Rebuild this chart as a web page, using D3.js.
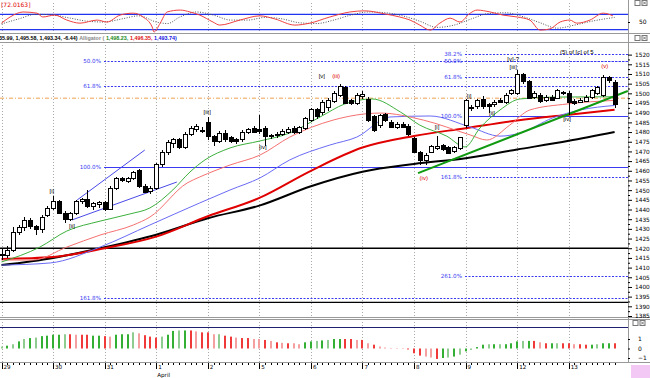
<!DOCTYPE html>
<html><head><meta charset="utf-8">
<script src="https://cdn.jsdelivr.net/npm/d3@7"></script>
<style>body{margin:0;background:#fff}svg{display:block;font-family:"DejaVu Sans",sans-serif}</style>
</head><body><svg id="c" width="650" height="378"></svg>
<script>
// ---------- DATA ----------
const dayLabels = ["29","30","31","1","2","5","6","7","8","9","12","13"];
const barsPerDay = 9;
const open  = [1417,1416,1419,1428,1430.5,1434.5,1431,1429.5,1437, 1440.5,1444,1438,1435,1438,1444,1445,1441.5,1442.5, 1443.5,1440,1451,1456,1454.5,1456,1460,1452,1449.5, 1451,1463,1469.5,1474,1476,1472,1479,1481.5,1481, 1485,1477.5,1475,1479.5,1477,1476,1476,1480,1482, 1481.5,1482,1478,1478,1479,1480,1482,1480,1482, 1486,1491.5,1490,1492.5,1496,1499,1503,1496.5,1495, 1498.5,1497,1488,1483.5,1489,1485,1482.5,1484,1483, 1476.5,1469.5,1465.5,1469.5,1471.5,1473,1472,1470,1471.5, 1483.5,1492,1493,1497,1494,1494,1496.5,1495.5,1500, 1500,1509.5,1506,1498,1499,1496.5,1498,1497.5,1500, 1500,1496,1495.5,1496,1498,1500,1499,1508,1505.5];
const high  = [1420,1421,1431,1432,1436,1435.5,1432,1437,1442, 1447,1445,1439,1438.5,1445,1446,1450,1444,1444.5, 1444.5,1452,1457,1457,1457,1460,1461,1453,1452, 1464,1470.5,1476,1477,1477,1480,1483,1484,1482.5, 1488,1478.5,1480.5,1481,1478,1477,1481,1482,1483, 1489,1483,1479,1480,1481.5,1482.5,1483,1483,1488, 1492.5,1492.5,1496.5,1497.5,1501,1505,1504,1497,1500, 1501,1498,1489,1489.5,1490,1486,1485,1485,1484, 1477.5,1470,1469,1473.5,1478,1474,1473,1473,1477.5, 1497,1494,1497,1498.5,1495,1496.5,1497.5,1500,1502.5, 1512,1510.5,1507,1501,1500,1499,1499,1502.5,1501, 1501,1497,1497.5,1499,1502,1504,1509.5,1509,1507];
const low   = [1414,1415,1418,1427,1429,1430,1427,1428,1436, 1440,1437.5,1433,1434,1437,1443,1441,1440,1441, 1439,1439.5,1450,1454,1453.5,1455,1451,1448.5,1448, 1450,1462,1468,1472,1471,1471,1478,1480,1479.5, 1476,1473,1474.5,1475,1474.5,1474,1475,1479,1479.5, 1479,1473,1476.5,1477,1478,1479,1479,1479,1481, 1485,1487,1489,1491,1495,1498,1494.5,1494,1494, 1497,1485,1480,1482,1485,1482,1481.5,1482,1478, 1469,1463,1463,1469,1470.5,1470,1468.5,1469,1470.5, 1482,1491,1492,1492,1490,1493,1495,1494.5,1499, 1499,1505,1497,1497,1495,1495.5,1496,1497,1499, 1489,1494,1495,1495.5,1497,1499,1498,1505.5,1492.5];
const close = [1416,1419,1428,1430.5,1434.5,1431,1429.5,1436,1440.5, 1444,1438,1435,1438,1444,1445,1441.5,1443,1443.5, 1440,1451,1456,1455,1456,1459,1452,1449,1451, 1463,1469.5,1474.5,1476,1472,1479,1482,1483,1480.5, 1477.5,1475,1479.5,1476,1475,1475,1480,1481.5,1480, 1480.5,1477.5,1477.5,1479,1480.5,1481.5,1480,1482.5,1487, 1491.5,1488,1495.5,1496.5,1500,1503.5,1495,1495,1499, 1499.5,1486,1481,1488.5,1486,1482.5,1484,1482.5,1478.5, 1469.5,1465.5,1468,1472.5,1472.5,1471,1469,1472,1477, 1496.5,1492.5,1496.5,1493,1493,1495.5,1495.5,1499,1501.7, 1509.5,1506,1497.5,1500,1496,1498,1496.5,1501.5,1500.5, 1495.5,1495,1496.5,1498,1501.5,1503,1508,1506.5,1494];

// long moving averages (bar index, value)
const maIdx      = [0,9,18,27,36,45,54,63,72,81,90,99,107];
const maBlack    = [1411.3,1415,1420.5,1427,1435.5,1442,1452,1459.5,1463.5,1466.5,1471,1475.5,1480];
const maRed      = [1414.5,1415.5,1420,1426,1436.5,1446,1460,1472,1478,1482,1486,1489,1491.5];
// Alligator lines
const lipsIdx  = [0,6.7,11.4,17.2,22.4,25.9,29.9,32.9,35.5,39.9,45.1,50.3,55.6,59.9,64.7,69.6,73,77.7,80.9,83.5,87,90.5,97.5,107];
const lipsVal  = [1412.9,1420.6,1428.9,1434,1437.7,1440.8,1450.1,1459.4,1465.6,1471.8,1475.4,1479.5,1487.8,1494.5,1497.1,1490.4,1483.6,1477.9,1472.3,1482.1,1491.4,1497.1,1498.1,1498.23];
const teethIdx = [0,5.5,11.4,17.2,23,25.9,32.4,34.6,39.9,45.1,50.3,57.9,66.1,73.6,81.8,84.7,88.7,92.2,98.7,107];
const teethVal = [1413.9,1413.9,1420.6,1426.8,1432,1436.1,1453.7,1456.8,1463,1468.1,1477.4,1486.2,1489.8,1486.2,1478.5,1475.9,1483.6,1491.4,1494.5,1496.35];
const jawIdx   = [0,8.5,17.2,25.9,34.6,39.9,45.1,50.3,57.3,62,67.8,74.8,81.8,87,90.5,96.2,101,107];
const jawVal   = [1411.3,1412.4,1420.6,1432,1443.4,1450.1,1456.3,1465.6,1473.3,1477.4,1487.8,1488.3,1482.6,1477.9,1479.5,1487.3,1491.4,1493.74];

// Fibonacci levels
const fibLeftLabels  = ["50.0%","61.8%","100.0%","161.8%"];
const fibLeftValues  = [1516.7,1503.8,1461.9,1394.4];
const fibRightLabels = ["38.2%","50.0%","61.8%","100.0%","161.8%","261.0%"];
const fibRightValues = [1520.3,1516.7,1508.4,1488.3,1456.8,1405.6];
const hLineValues    = [1420,1392];
const orangeLevel    = 1497.5;

// trend lines [bar0, value0, bar1, value1]
const channelUpper = [13.2,1444.9,25.0,1470.7];
const channelLower = [12.3,1434.6,30.6,1454.2];
const greenTrend   = [72.7,1458.8,109.3,1501.2];

// Elliott wave labels
const waveText  = ["[i]","[ii]","[iii]","[iv]","[v]","(iii)","(iv)","[i]","[i]","[ii]","[v]-?","[iii]","[iv]","(v)","(5) of [c] of 5"];
const waveBar   = [8.8,12.3,35.9,45.6,55.9,58.4,73.7,76,81.6,85.6,89.3,89.3,98.7,105.3,100.4];
const wavePrice = [1448.5,1430.5,1489.5,1471,1508,1508,1455.5,1481.5,1497.8,1489,1516.5,1512.5,1485.5,1513.3,1520.3];
const waveRed   = [0,0,0,0,0,1,1,0,0,0,0,0,0,1,0];

// Oscillator (top panel)
const oscIdx = [0,1.5,3.75,6.2,7.2,9.3,11.4,13.7,16.7,18.4,20.7,23,24.7,26.3,26.6,27.7,28.9,31.2,32.9,34.6,36.9,38.1,41.6,45.1,47.7,51.2,53.8,57.3,60.8,63.4,66.9,69.5,71.3,73,74.8,76.5,78.3,80,81.8,83,85.3,87.5,90,92.2,94,95.7,97.5,99.2,100.4,102.7,105,106.7];
const oscVal = [47,63,76,73,63,68,55,47,55,50,68,73,63,37,24,47,76,81,76,68,50,42,55,66,58,42,47,63,76,79,71,63,55,42,29,47,60,50,73,81,76,68,63,55,29,32,50,55,47,55,73,66];
const sigIdx = [0,3,6,9,12,15,18,21,24,27,29,31,34,37,40,43,46,49,52,55,58,61,64,67,70,73,76,79,82,85,88,91,94,97,100,103,107];
const sigVal = [45,58,70,68,60,52,50,58,66,50,46,62,76,68,55,55,62,58,48,46,55,68,76,74,66,52,36,42,58,72,74,64,48,34,42,52,62];
const oscLevels = [70,30];
const oscReading = "[72.0163]";

// Histogram (bottom panel)
const histVal = [0.2,0.3,0.45,0.75,1.0,1.1,1.15,1.3,1.35, 1.45,1.45,1.5,1.5,1.45,1.45,1.45,1.35,1.35, 1.3,1.25,1.45,1.5,1.5,1.7,1.6,1.4,1.25, 1.15,1.25,1.45,1.85,1.9,1.9,1.9,1.8,1.7, 1.7,1.5,1.5,1.35,1.25,1.15,1.1,1.1,1.0, 1.0,0.9,0.8,0.65,0.6,0.55,0.55,0.45,0.65, 0.75,0.8,0.85,0.9,1.0,1.0,1.0,1.0,0.9, 0.9,0.55,0.4,0.2,0.1,0.05,0.05,0.05,-0.1, -0.5,-0.75,-0.85,-0.95,-1.1,-1.0,-0.95,-0.85,-0.65, -0.3,-0.15,0.15,0.4,0.45,0.45,0.45,0.45,0.55, 0.75,0.8,0.8,0.8,0.65,0.55,0.55,0.55,0.55, 0.55,0.45,0.45,0.4,0.4,0.45,0.55,0.55,0.55];
const histCol = ("gGgGgGgGG"+"GGgRrRRGG"+"RrGGGgrRR"+"RgGGgGRrR"+"RrgRRrRRr"+"rRrRrRrrG"+"GgGgGGRRr"+"RrRrrrrrR"+"RRrrRGgGg"+"GgGGgGgGG"+"GgGRrRGgR"+"RrRRGgGGR").split("");
const histTicks = [1,0,-1];

const headerParts = [["35.99, 1,495.58, 1,493.34, -6.44)","#000"],["Alligator (","#888"],["1,498.23,","#1a8a1a"],["1,496.35,","#e01010"],["1,493.74)","#1010e0"]];

// ---------- DRAWING ----------
const W=650,H=378,PR=628;
const svg=d3.select("#c");
svg.append("rect").attr("width",W).attr("height",H).attr("fill","#fff");
const nBars = open.length;
const x=d3.scaleLinear().domain([0,107]).range([1.5,614.6]);
const y=d3.scaleLinear().domain([1385,1526]).range([316,43]);
const yo=d3.scaleLinear().domain([30,70]).range([29.7,14.3]);
const yh=d3.scaleLinear().domain([-1,1]).range([358,339]);

const defs=svg.append("defs");
function clip(id,x0,y0,w,h){defs.append("clipPath").attr("id",id).append("rect").attr("x",x0).attr("y",y0).attr("width",w).attr("height",h);}
clip("cm",0,42,PR,275); clip("co",0,3,PR,30); clip("ch",0,319,PR,43);

const fs=6;
const dayIdx=dayLabels.map((d,k)=>k*barsPerDay);
[[3,33],[42,317],[319,362]].forEach(([a,b])=>{
  svg.append("g").selectAll("line").data(dayIdx).join("line")
    .attr("x1",d=>Math.round(x(d))+0.5).attr("x2",d=>Math.round(x(d))+0.5)
    .attr("y1",a).attr("y2",b).attr("stroke","#aaa").attr("stroke-dasharray","1,2");
});

const fr=svg.append("g").attr("stroke","#999").attr("shape-rendering","crispEdges");
[33.5,42.5,317.5,319.5,362.5].forEach(v=>fr.append("line").attr("x1",0).attr("x2",W).attr("y1",v).attr("y2",v));
fr.append("line").attr("x1",PR+0.5).attr("x2",PR+0.5).attr("y1",0).attr("y2",362);

// ---- top oscillator ----
const go=svg.append("g").attr("clip-path","url(#co)");
oscLevels.forEach(l=>go.append("line").attr("x1",0).attr("x2",PR).attr("y1",yo(l)).attr("y2",yo(l)).attr("stroke","#2233ee").attr("stroke-width",1.2));
go.append("path").attr("d",d3.line().x((d,i)=>x(sigIdx[i])).y(d=>yo(d)).curve(d3.curveMonotoneX)(sigVal))
  .attr("fill","none").attr("stroke","#555").attr("stroke-dasharray","1,1.5");
go.append("path").attr("d",d3.line().x((d,i)=>x(oscIdx[i])).y(d=>yo(d)).curve(d3.curveMonotoneX)(oscVal))
  .attr("fill","none").attr("stroke","#f04040").attr("stroke-width",1);
svg.append("text").attr("x",1).attr("y",7).attr("font-size",fs).attr("fill","#e00000").text(oscReading);
svg.append("g").attr("transform",`translate(${PR},0)`).call(d3.axisRight(yo).tickValues([50]).tickSize(2).tickPadding(9))
  .call(g=>{g.select(".domain").remove();g.selectAll("text").attr("font-size",fs).attr("font-family","DejaVu Sans");});

let hx=-1;
headerParts.forEach(([t,c])=>{
  const el=svg.append("text").attr("x",hx).attr("y",40).attr("font-size",5.4)
    .attr("font-family","Liberation Sans").attr("font-weight","bold").attr("fill",c).text(t);
  hx+=el.node().getComputedTextLength()+1.6;
});

function icon(x0,y0){const g=svg.append("g").attr("stroke","#777").attr("fill","none");
  g.append("rect").attr("x",x0).attr("y",y0).attr("width",5).attr("height",5);
  g.append("rect").attr("x",x0+7).attr("y",y0).attr("width",5).attr("height",5);
  g.append("path").attr("d",`M${x0+8},${y0+1}L${x0+11},${y0+4}M${x0+11},${y0+1}L${x0+8},${y0+4}`);}
icon(635,35.5); icon(635,0.5); icon(633,320.5);

// ---- main panel ----
const gm=svg.append("g").attr("clip-path","url(#cm)");
hLineValues.forEach(v=>gm.append("line").attr("x1",0).attr("x2",PR).attr("y1",y(v)).attr("y2",y(v)).attr("stroke","#000").attr("stroke-width",1.3));
gm.append("line").attr("x1",0).attr("x2",PR).attr("y1",y(orangeLevel)).attr("y2",y(orangeLevel))
  .attr("stroke","#f0a050").attr("stroke-dasharray","4,2,1,2");
const fibColor="#3a3af0";
const labelLayer=[];
function fib(labels,values,lx,startX){
  labels.forEach((l,k)=>{
    const solid=l==="100.0%";
    gm.append("line").attr("x1",startX).attr("x2",PR).attr("y1",Math.round(y(values[k]))+0.5).attr("y2",Math.round(y(values[k]))+0.5)
      .attr("stroke",fibColor).attr("stroke-width",1).attr("stroke-dasharray",solid?null:"2,1.5");
    labelLayer.push([lx,y(values[k])+2,l]);
  });
}
fib(fibLeftLabels,fibLeftValues,101,104);
fib(fibRightLabels,fibRightValues,462,465);

function curve(idx,vals){return d3.line().x((d,i)=>x(idx[i])).y(d=>y(d)).curve(d3.curveMonotoneX)(vals);}
gm.append("path").attr("d",curve(maIdx,maBlack)).attr("fill","none").attr("stroke","#000").attr("stroke-width",2);
gm.append("path").attr("d",curve(maIdx,maRed)).attr("fill","none").attr("stroke","#e00000").attr("stroke-width",2);
gm.append("path").attr("d",curve(jawIdx,jawVal)).attr("fill","none").attr("stroke","#6a6af5").attr("stroke-width",1);
gm.append("path").attr("d",curve(teethIdx,teethVal)).attr("fill","none").attr("stroke","#f57070").attr("stroke-width",1);
gm.append("path").attr("d",curve(lipsIdx,lipsVal)).attr("fill","none").attr("stroke","#3cb03c").attr("stroke-width",1);
function seg(s,c,w){gm.append("line").attr("x1",x(s[0])).attr("y1",y(s[1])).attr("x2",x(s[2])).attr("y2",y(s[3])).attr("stroke",c).attr("stroke-width",w);}
seg(channelUpper,"#4a4ae8",1); seg(channelLower,"#4a4ae8",1); seg(greenTrend,"#109a10",2);

const cg=gm.append("g").attr("shape-rendering","crispEdges");
const idx=d3.range(nBars);
cg.selectAll("line").data(idx).join("line")
  .attr("x1",i=>Math.round(x(i))+0.5).attr("x2",i=>Math.round(x(i))+0.5)
  .attr("y1",i=>y(high[i])).attr("y2",i=>y(low[i])).attr("stroke","#000");
cg.selectAll("rect").data(idx).join("rect")
  .attr("x",i=>Math.round(x(i))-1.5).attr("width",4)
  .attr("y",i=>y(Math.max(open[i],close[i])))
  .attr("height",i=>Math.max(1,Math.abs(y(open[i])-y(close[i]))))
  .attr("fill",i=>close[i]>=open[i]?"#fff":"#000").attr("stroke","#000");

// labels drawn outside clip group
const tl=svg.append("g");
tl.selectAll("text.f").data(labelLayer).join("text").attr("class","f")
  .attr("x",d=>d[0]).attr("y",d=>d[1]).attr("text-anchor","end").attr("font-size",5.6).attr("fill",fibColor).text(d=>d[2]);
tl.selectAll("text.w").data(waveText).join("text").attr("class","w")
  .attr("x",(d,i)=>x(waveBar[i])).attr("y",(d,i)=>y(wavePrice[i]))
  .attr("text-anchor","middle").attr("font-size",6).attr("font-family","Liberation Sans")
  .attr("fill",(d,i)=>waveRed[i]?"#e00000":"#000").text(d=>d);

const ax=svg.append("g").attr("transform",`translate(${PR},0)`);
ax.call(d3.axisRight(y).tickValues(d3.range(1387.5,1521,5)).tickSize(2).tickFormat(""))
  .call(g=>g.select(".domain").remove());
const ax2=svg.append("g").attr("transform",`translate(${PR},0)`);
ax2.call(d3.axisRight(y).tickValues(d3.range(1385,1521,5)).tickSize(4).tickPadding(3).tickFormat(d3.format("d")))
  .call(g=>{g.select(".domain").remove();g.selectAll("text").attr("font-size",5.8).attr("font-family","DejaVu Sans");});

// ---- histogram ----
const gh=svg.append("g").attr("clip-path","url(#ch)");
gh.append("line").attr("x1",0).attr("x2",PR).attr("y1",327.5).attr("y2",327.5).attr("stroke","#202070").attr("stroke-width",1);
const hc={G:"#33b033",g:"#8fcc8f",R:"#f03a3a",r:"#f5a0a0"};
gh.selectAll("rect").data(idx).join("rect")
  .attr("x",i=>Math.round(x(i))-1).attr("width",2)
  .attr("y",i=>Math.min(yh(0),yh(histVal[i]))).attr("height",i=>Math.abs(yh(histVal[i])-yh(0)))
  .attr("fill",i=>hc[histCol[i]]);
svg.append("g").attr("transform",`translate(${PR},0)`).call(d3.axisRight(yh).tickValues(histTicks).tickSize(2).tickPadding(8).tickFormat(d3.format("d")))
  .call(g=>{g.select(".domain").remove();g.selectAll("text").attr("font-size",fs).attr("font-family","DejaVu Sans");});

// ---- time axis ----
const ta=svg.append("g").attr("shape-rendering","crispEdges").attr("stroke","#000");
ta.selectAll("line.m").data(idx).join("line").attr("class","m")
  .attr("x1",i=>Math.round(x(i))+0.5).attr("x2",i=>Math.round(x(i))+0.5).attr("y1",363).attr("y2",i=>i%barsPerDay===0?369:365);
svg.selectAll("text.d").data(dayLabels).join("text").attr("class","d")
  .attr("x",(d,k)=>x(k*barsPerDay)+2).attr("y",369).attr("font-size",5.6).text(d=>d);
svg.append("text").attr("x",x(27)+1).attr("y",376.5).attr("font-size",5.6).text("April");
svg.append("rect").attr("x",631).attr("y",365).attr("width",19).attr("height",13).attr("fill","#f4c8f4");
</script></body></html>
